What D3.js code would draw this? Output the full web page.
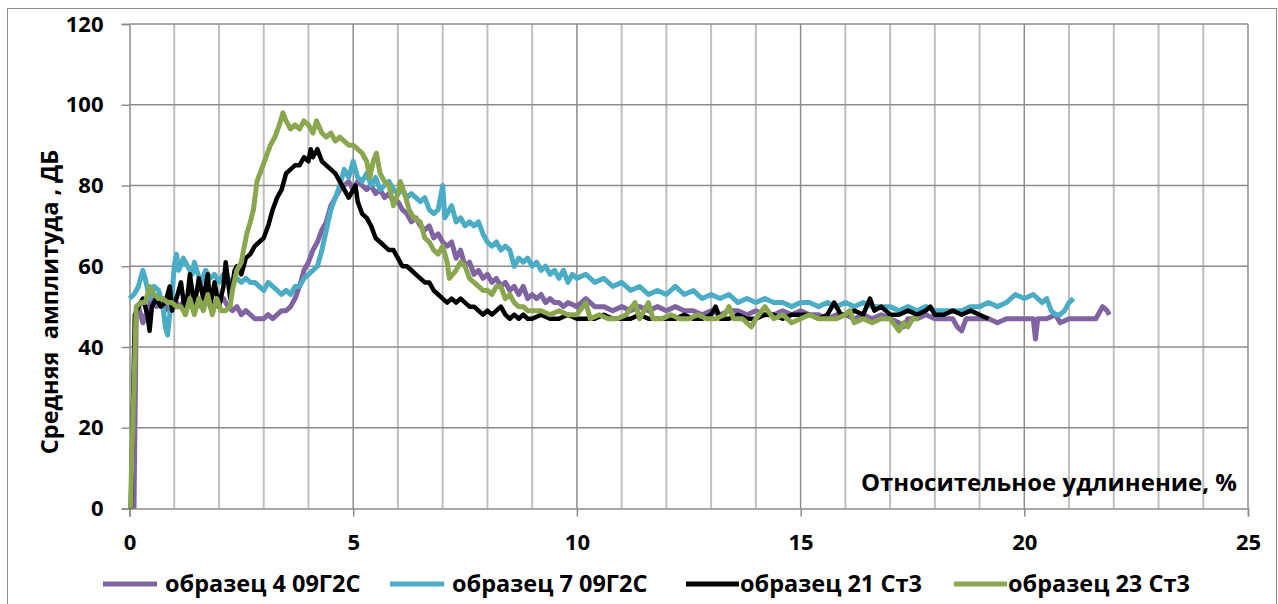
<!DOCTYPE html>
<html>
<head>
<meta charset="utf-8">
<script src="https://cdn.jsdelivr.net/npm/d3@7"></script>
<style>
  body { margin: 0; background: #fff; }
  text { font-family: 'Open Sans', 'Noto Sans', sans-serif; font-weight: bold; fill: #000; }
</style>
</head>
<body>
<div id="chart"></div>
<script>
// tick labels
const xTicks = [0, 5, 10, 15, 20, 25];
const yTicks = [0, 20, 40, 60, 80, 100, 120];
const seriesNames = ['образец 4 09Г2С', 'образец 7 09Г2С', 'образец 21 Ст3', 'образец 23 Ст3'];
const seriesColors = ['#8064A2', '#4BACC6', '#000000', '#8AA64E'];

// series values, [elongation %, amplitude dB]
const s4 = [[0.1,0],[0.15,48],[0.2,50],[0.3,46],[0.4,49],[0.5,52],[0.6,50],[0.7,51],[0.8,49],[0.9,51],[1.0,52],[1.1,50],[1.2,51],[1.3,50],[1.4,52],[1.5,51],[1.6,50],[1.7,52],[1.8,51],[1.9,50],[2.0,51],[2.1,52],[2.2,50],[2.3,49],[2.4,50],[2.5,48],[2.6,49],[2.7,48],[2.8,47],[2.9,47],[3.0,47],[3.1,48],[3.2,47],[3.3,48],[3.4,49],[3.5,49],[3.6,50],[3.7,52],[3.8,55],[3.9,59],[4.0,61],[4.1,64],[4.2,66],[4.3,69],[4.4,71],[4.5,75],[4.6,77],[4.7,79],[4.8,80],[4.9,81],[5.0,79],[5.1,81],[5.2,80],[5.3,79],[5.4,80],[5.5,78],[5.6,79],[5.7,77],[5.8,78],[5.9,76],[6.0,76],[6.1,74],[6.2,73],[6.3,71],[6.4,72],[6.5,70],[6.6,69],[6.7,70],[6.8,67],[6.9,68],[7.0,66],[7.1,65],[7.2,66],[7.3,62],[7.4,64],[7.5,60],[7.6,61],[7.7,58],[7.8,59],[7.9,57],[8.0,58],[8.1,56],[8.2,57],[8.3,55],[8.4,56],[8.5,54],[8.6,55],[8.7,53],[8.8,55],[8.9,52],[9.0,53],[9.1,52],[9.2,53],[9.3,51],[9.4,52],[9.5,51],[9.6,51],[9.7,50],[9.8,51],[10.0,50],[10.2,52],[10.4,50],[10.6,50],[10.8,49],[11.0,50],[11.2,49],[11.4,50],[11.6,49],[11.8,50],[12.0,49],[12.2,50],[12.4,49],[12.6,49],[12.8,48],[13.0,49],[13.2,48],[13.4,49],[13.6,49],[13.8,48],[14.0,49],[14.2,48],[14.4,48],[14.6,49],[14.8,48],[15.0,49],[15.2,48],[15.4,48],[15.6,47],[15.8,48],[16.0,48],[16.2,47],[16.4,48],[16.6,47],[16.8,48],[17.0,47],[17.2,46],[17.3,45],[17.4,47],[17.6,47],[17.8,48],[18.0,47],[18.2,47],[18.4,47],[18.5,45],[18.6,44],[18.7,47],[18.8,47],[19.0,47],[19.2,47],[19.4,46],[19.6,47],[19.8,47],[20.0,47],[20.2,47],[20.25,42],[20.3,47],[20.5,47],[20.7,48],[20.8,46],[21.0,47],[21.2,47],[21.4,47],[21.6,47],[21.75,50],[21.85,49],[21.9,48]];

const s7 = [[0,52],[0.1,53],[0.2,55],[0.3,59],[0.35,57],[0.45,52],[0.55,55],[0.65,54],[0.75,50],[0.8,45],[0.85,43],[0.9,48],[0.95,53],[1.0,60],[1.05,63],[1.1,59],[1.2,62],[1.3,60],[1.4,58],[1.45,61],[1.5,59],[1.6,56],[1.7,59],[1.8,57],[1.9,58],[2.0,56],[2.1,58],[2.2,57],[2.3,56],[2.4,57],[2.5,56],[2.6,57],[2.7,56],[2.8,56],[2.9,55],[3.0,54],[3.1,56],[3.2,55],[3.3,54],[3.4,53],[3.5,54],[3.6,53],[3.7,55],[3.8,55],[3.9,57],[4.0,58],[4.1,59],[4.2,60],[4.3,64],[4.4,69],[4.5,74],[4.6,77],[4.7,80],[4.8,84],[4.9,82],[5.0,86],[5.1,82],[5.2,81],[5.3,83],[5.4,80],[5.5,82],[5.6,79],[5.7,80],[5.8,81],[5.9,79],[6.0,78],[6.1,79],[6.2,77],[6.3,78],[6.4,77],[6.5,76],[6.6,77],[6.7,74],[6.8,73],[6.9,74],[7.0,80],[7.05,72],[7.1,73],[7.2,75],[7.3,71],[7.4,72],[7.5,70],[7.6,71],[7.7,70],[7.8,71],[7.9,68],[8.0,66],[8.1,65],[8.2,66],[8.3,64],[8.4,65],[8.5,64],[8.6,60],[8.7,62],[8.8,61],[8.9,62],[9.0,60],[9.1,61],[9.2,59],[9.3,60],[9.4,58],[9.5,59],[9.6,57],[9.7,59],[9.8,56],[9.9,58],[10.0,57],[10.2,58],[10.4,56],[10.6,57],[10.8,55],[11.0,56],[11.2,54],[11.4,55],[11.6,53],[11.8,54],[12.0,53],[12.2,55],[12.4,53],[12.6,54],[12.8,52],[13.0,53],[13.2,52],[13.4,53],[13.6,51],[13.8,52],[14.0,51],[14.2,52],[14.4,51],[14.6,51],[14.8,50],[15.0,51],[15.2,51],[15.4,50],[15.6,51],[15.8,50],[16.0,51],[16.2,50],[16.4,51],[16.6,50],[16.8,50],[17.0,50],[17.2,49],[17.4,50],[17.6,49],[17.8,50],[18.0,49],[18.2,49],[18.4,49],[18.6,49],[18.8,50],[19.0,50],[19.2,51],[19.4,50],[19.6,51],[19.8,53],[20.0,52],[20.2,53],[20.4,51],[20.5,52],[20.6,49],[20.7,48],[20.8,48],[20.9,49],[21.0,51],[21.1,52]];

const s21 = [[0.03,0],[0.12,48],[0.2,50],[0.3,52],[0.4,48],[0.45,44],[0.5,50],[0.6,52],[0.7,50],[0.8,51],[0.9,55],[0.95,49],[1.05,52],[1.15,56],[1.25,48],[1.35,58],[1.45,50],[1.55,57],[1.65,52],[1.75,58],[1.8,50],[1.9,56],[2.0,50],[2.1,55],[2.15,61],[2.25,52],[2.35,59],[2.4,60],[2.5,58],[2.6,62],[2.7,63],[2.8,65],[2.9,66],[3.0,67],[3.1,70],[3.2,74],[3.3,77],[3.4,79],[3.5,83],[3.6,84],[3.7,85],[3.8,85],[3.9,87],[4.0,86],[4.05,89],[4.1,87],[4.2,89],[4.3,86],[4.4,85],[4.5,84],[4.6,83],[4.7,81],[4.8,79],[4.9,77],[5.0,79],[5.05,80],[5.1,76],[5.2,73],[5.3,72],[5.4,70],[5.5,67],[5.6,66],[5.7,65],[5.8,64],[5.9,64],[6.0,62],[6.1,60],[6.2,60],[6.3,59],[6.4,58],[6.5,57],[6.6,56],[6.7,56],[6.8,54],[6.9,53],[7.0,52],[7.1,51],[7.2,52],[7.3,51],[7.4,52],[7.5,51],[7.6,50],[7.7,50],[7.8,49],[7.9,48],[8.0,49],[8.1,48],[8.2,49],[8.3,50],[8.4,48],[8.5,47],[8.6,48],[8.7,47],[8.8,48],[8.9,47],[9.0,47],[9.2,48],[9.4,47],[9.6,47],[9.8,48],[10.0,47],[10.2,47],[10.4,47],[10.6,48],[10.8,47],[11.0,47],[11.2,47],[11.4,48],[11.6,47],[11.8,47],[12.0,47],[12.2,47],[12.4,48],[12.6,47],[12.8,47],[13.0,48],[13.1,50],[13.2,47],[13.4,47],[13.6,48],[13.8,47],[14.0,47],[14.2,48],[14.4,48],[14.6,47],[14.8,48],[15.0,48],[15.2,48],[15.4,47],[15.6,48],[15.75,51],[15.9,48],[16.0,48],[16.2,49],[16.4,48],[16.55,52],[16.65,49],[16.8,50],[17.0,48],[17.2,48],[17.4,49],[17.6,48],[17.8,49],[17.9,50],[18.0,48],[18.2,48],[18.4,49],[18.6,48],[18.8,49],[19.0,48],[19.2,47]];

const s23 = [[0.02,0],[0.15,50],[0.25,51],[0.35,51],[0.45,55],[0.55,53],[0.65,52],[0.75,52],[0.85,51],[0.95,51],[1.05,50],[1.15,50],[1.25,48],[1.35,52],[1.45,48],[1.55,52],[1.65,49],[1.75,53],[1.85,48],[1.95,52],[2.05,49],[2.15,49],[2.25,50],[2.3,54],[2.4,59],[2.5,61],[2.55,64],[2.62,68],[2.7,71],[2.77,74],[2.85,81],[2.95,84],[3.05,87],[3.15,90],[3.25,92],[3.35,95],[3.43,98],[3.5,96],[3.6,94],[3.7,95],[3.8,94],[3.9,96],[4.0,95],[4.1,93],[4.18,96],[4.3,93],[4.4,92],[4.5,93],[4.6,91],[4.7,92],[4.8,91],[4.9,90],[5.0,90],[5.1,89],[5.2,88],[5.3,86],[5.37,82],[5.45,86],[5.52,88],[5.6,83],[5.7,81],[5.8,80],[5.9,75],[6.0,78],[6.05,81],[6.15,78],[6.25,74],[6.35,72],[6.5,71],[6.6,67],[6.7,66],[6.8,64],[6.9,63],[7.0,65],[7.1,61],[7.15,57],[7.3,59],[7.4,61],[7.5,60],[7.6,57],[7.7,56],[7.8,55],[7.9,54],[8.0,54],[8.1,53],[8.2,55],[8.3,55],[8.4,52],[8.5,53],[8.6,51],[8.7,50],[8.8,50],[8.9,49],[9.0,49],[9.2,49],[9.4,48],[9.6,49],[9.8,48],[10.0,48],[10.2,51],[10.3,47],[10.5,48],[10.7,47],[10.9,47],[11.1,48],[11.3,51],[11.4,47],[11.6,51],[11.7,47],[11.9,47],[12.1,48],[12.3,47],[12.5,47],[12.7,48],[12.9,47],[13.1,47],[13.3,48],[13.4,50],[13.5,47],[13.7,47],[13.9,45],[14.0,47],[14.2,50],[14.4,47],[14.6,48],[14.8,46],[15.0,47],[15.2,48],[15.4,47],[15.6,47],[15.8,47],[16.0,48],[16.1,49],[16.2,46],[16.4,47],[16.6,46],[16.8,47],[17.0,47],[17.2,44],[17.3,46],[17.4,45],[17.5,47],[17.65,47]];

const allSeries = [s4, s7, s21, s23];

const width = 1278, height = 604;
const plot = { left: 129.5, right: 1248, top: 24, bottom: 508.5 };

const x = d3.scaleLinear().domain([0, 25]).range([plot.left, plot.right]);
const y = d3.scaleLinear().domain([0, 120]).range([plot.bottom, plot.top]);

const svg = d3.select('#chart').append('svg')
  .attr('width', width).attr('height', height);

svg.append('rect').attr('width', width).attr('height', height).attr('fill', '#fff');
// chart border
svg.append('rect')
  .attr('x', 7.5).attr('y', 8.5)
  .attr('width', 1269).attr('height', 640)
  .attr('fill', 'none').attr('stroke', '#8c8c8c').attr('stroke-width', 1);

// minor vertical grid
svg.append('g')
  .selectAll('line')
  .data(d3.range(1, 26).filter((d) => d % 5 !== 0))
  .join('line')
  .attr('x1', (d) => x(d)).attr('x2', (d) => x(d))
  .attr('y1', plot.top).attr('y2', plot.bottom)
  .attr('stroke', '#bfbfbf').attr('stroke-width', 2);

// major vertical grid
svg.append('g')
  .selectAll('line')
  .data(xTicks.slice(1))
  .join('line')
  .attr('x1', (d) => x(d)).attr('x2', (d) => x(d))
  .attr('y1', plot.top).attr('y2', plot.bottom)
  .attr('stroke', '#8c8c8c').attr('stroke-width', 1.5);

// horizontal grid
svg.append('g')
  .selectAll('line')
  .data(yTicks.slice(1))
  .join('line')
  .attr('x1', plot.left).attr('x2', plot.right)
  .attr('y1', (d) => y(d)).attr('y2', (d) => y(d))
  .attr('stroke', '#8c8c8c').attr('stroke-width', 1.5);

// axes
const xAxis = (g) =>
  g.attr('transform', `translate(0,${plot.bottom})`)
    .call(d3.axisBottom(x).tickValues(xTicks).tickSize(8).tickPadding(18).tickFormat(d3.format('d')))
    .call((g) => g.select('.domain').attr('stroke', '#8c8c8c').attr('stroke-width', 1.5))
    .call((g) => g.selectAll('.tick line').attr('stroke', '#8c8c8c').attr('stroke-width', 1.5))
    .call((g) => g.selectAll('.tick text').attr('font-size', 22).attr('font-family', null));

const yAxis = (g) =>
  g.attr('transform', `translate(${plot.left},0)`)
    .call(d3.axisLeft(y).tickValues(yTicks).tickSize(8).tickPadding(18))
    .call((g) => g.select('.domain').attr('stroke', '#8c8c8c').attr('stroke-width', 1.5))
    .call((g) => g.selectAll('.tick line').attr('stroke', '#8c8c8c').attr('stroke-width', 1.5))
    .call((g) => g.selectAll('.tick text').attr('font-size', 22).attr('font-family', null));

svg.append('g').call(xAxis);
svg.append('g').call(yAxis);

// series lines
const line = d3.line().x((d) => x(d[0])).y((d) => y(d[1]));
svg.append('g')
  .selectAll('path')
  .data(allSeries)
  .join('path')
  .attr('d', line)
  .attr('fill', 'none')
  .attr('stroke', (d, i) => seriesColors[i])
  .attr('stroke-width', (d, i) => (i === 2 ? 4.5 : 5))
  .attr('stroke-linejoin', 'round');

// axis titles
svg.append('text')
  .attr('transform', 'translate(58,302) rotate(-90)')
  .attr('text-anchor', 'middle')
  .attr('font-size', 23.5)
  .style('white-space', 'pre')
  .text('Средняя  амплитуда , ДБ');

svg.append('text')
  .attr('x', 1237).attr('y', 491)
  .attr('text-anchor', 'end')
  .attr('font-size', 24)
  .text('Относительное удлинение, %');

// legend
const legendX = [103, 390, 686, 954];
const legend = svg.append('g')
  .selectAll('g')
  .data(seriesNames)
  .join('g')
  .attr('transform', (d, i) => `translate(${legendX[i]},584)`);
legend.append('line')
  .attr('x1', 0).attr('x2', (d, i) => (i >= 2 ? 53 : 54))
  .attr('stroke', (d, i) => seriesColors[i])
  .attr('stroke-width', 5);
legend.append('text')
  .attr('x', (d, i) => (i >= 2 ? 54 : 62))
  .attr('dy', '0.35em')
  .attr('font-size', 23.5)
  .text((d) => d);
</script>
</body>
</html>
